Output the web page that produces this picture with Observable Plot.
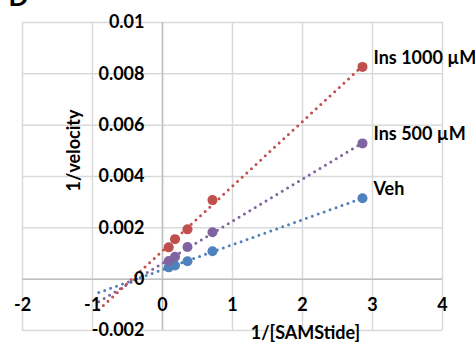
<!DOCTYPE html>
<html>
<head>
<meta charset="utf-8">
<script src="https://cdn.jsdelivr.net/npm/d3@7"></script>
<script src="https://cdn.jsdelivr.net/npm/@observablehq/plot@0.6"></script>
<style>
  html, body { margin: 0; padding: 0; background: #fff; }
  svg { display: block; }
</style>
</head>
<body>
<div id="chart"></div>
<script>
// 1/[SAMStide]
const invSubstrate = [0.089, 0.179, 0.357, 0.714, 2.857];
// 1/velocity per series
const seriesNames = ["Veh", "Ins 500 \u00b5M", "Ins 1000 \u00b5M"];
const vehValues = [0.00046, 0.00053, 0.00070, 0.00109, 0.00315];
const ins500Values = [0.00071, 0.00087, 0.00125, 0.00183, 0.00529];
const ins1000Values = [0.00124, 0.00156, 0.00194, 0.00308, 0.00827];
const seriesColors = ["#4f81bd", "#8064a2", "#c0504d"];
const xTicks = [-2, -1, 0, 1, 2, 3, 4];
const xTickLabels = ["-2", "-1", "0", "1", "2", "3", "4"];
const yTicks = [-0.002, 0, 0.002, 0.004, 0.006, 0.008, 0.01];
const yTickLabels = ["-0.002", "0", "0.002", "0.004", "0.006", "0.008", "0.01"];
const backwardForecast = 1;

const valuesBySeries = [vehValues, ins500Values, ins1000Values];
const points = [];
valuesBySeries.forEach((vals, i) => {
  vals.forEach((v, j) => points.push({series: seriesNames[i], x: invSubstrate[j], y: v}));
});

// linear least-squares trendlines (Excel style, backward forecast)
const trend = [];
const endLabels = [];
valuesBySeries.forEach((vals, i) => {
  const mx = d3.mean(invSubstrate), my = d3.mean(vals);
  let sxy = 0, sxx = 0;
  invSubstrate.forEach((x, j) => { sxy += (x - mx) * (vals[j] - my); sxx += (x - mx) ** 2; });
  const slope = sxy / sxx, intercept = my - slope * mx;
  const x0 = d3.min(invSubstrate) - backwardForecast, x1 = d3.max(invSubstrate);
  trend.push({series: seriesNames[i], x: x0, y: intercept + slope * x0});
  trend.push({series: seriesNames[i], x: x1, y: intercept + slope * x1});
  endLabels.push({series: seriesNames[i], x: x1, y: vals[vals.length - 1]});
});

const font = "Lato, 'Open Sans', sans-serif";
const colorScale = {domain: seriesNames, range: seriesColors};

const chart = Plot.plot({
  width: 475,
  height: 346,
  marginLeft: 22,
  marginRight: 33,
  marginTop: 22,
  marginBottom: 16,
  style: {fontFamily: font, background: "#fff", overflow: "visible"},
  x: {domain: [-2, 4], axis: null},
  y: {domain: [-0.002, 0.01], axis: null},
  color: colorScale,
  marks: [
    Plot.ruleX(xTicks, {stroke: "#d9d9d9", strokeWidth: 1.5}),
    Plot.ruleY(yTicks, {stroke: "#d9d9d9", strokeWidth: 1.5}),
    Plot.ruleX([0], {stroke: "#bfbfbf", strokeWidth: 1.5}),
    Plot.ruleY([0], {stroke: "#bfbfbf", strokeWidth: 1.5}),
    Plot.line(trend, {x: "x", y: "y", z: "series", stroke: "series", strokeWidth: 3,
      strokeDasharray: "0,6.3", strokeLinecap: "round"}),
    Plot.dot(points, {x: "x", y: "y", fill: "series", r: 5}),
    Plot.text(xTicks, {x: d => d, y: () => 0, text: (d, i) => xTickLabels[i], dy: 26,
      fontSize: 18, fontWeight: "bold", fill: "#000"}),
    Plot.text(yTicks, {x: () => 0, y: d => d, text: (d, i) => yTickLabels[i], dx: -18,
      textAnchor: "end", fontSize: 18, fontWeight: "bold", fill: "#000"}),
    Plot.text(endLabels, {x: "x", y: "y", text: "series", dx: 11, dy: -9,
      textAnchor: "start", fontSize: 18, fontWeight: "bold", fill: "#000"}),
    Plot.text(["1/velocity"], {frameAnchor: "left", rotate: -90, dx: 52, dy: -26,
      textAnchor: "middle", lineAnchor: "middle",
      fontSize: 18, fontWeight: "bold", fill: "#000"}),
    Plot.text(["1/[SAMStide]"], {frameAnchor: "bottom", dx: 73, dy: 3,
      textAnchor: "middle", lineAnchor: "middle",
      fontSize: 18, fontWeight: "bold", fill: "#000"}),
    Plot.text(["D"], {frameAnchor: "top-left", dx: -14, dy: -17, lineAnchor: "bottom",
      fontSize: 26, fontWeight: "bold", fill: "#000"})
  ]
});
document.getElementById("chart").appendChild(chart);
</script>
</body>
</html>
